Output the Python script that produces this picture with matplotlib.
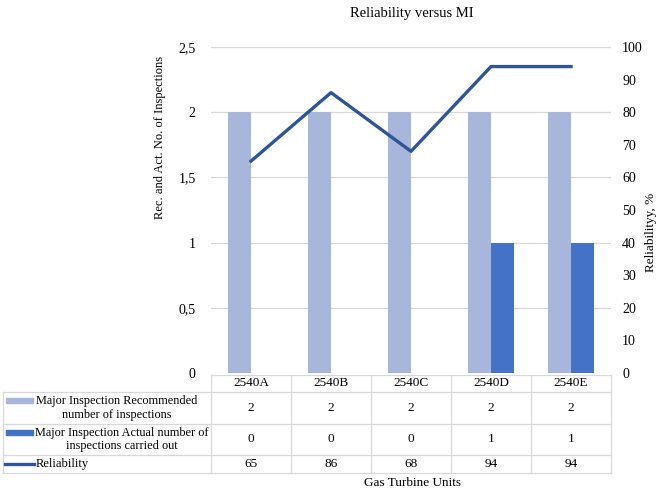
import matplotlib.pyplot as plt
from matplotlib.ticker import FuncFormatter, MultipleLocator

plt.rcParams['font.family'] = ['Liberation Serif', 'DejaVu Serif']

units = ['2540A', '2540B', '2540C', '2540D', '2540E']
recommended = [2, 2, 2, 2, 2]
actual = [0, 0, 0, 1, 1]
reliability = [65, 86, 68, 94, 94]

light_col = '#A8B6DC'
dark_col = '#4472C4'
line_col = '#2F5597'
grid_col = '#D9D9D9'

W, H = 660, 491
fig = plt.figure(figsize=(W / 100, H / 100), dpi=100)

# plot area in pixels
px_left, px_right, px_top, px_bot = 211, 611, 47, 373
ax = fig.add_axes([px_left / W, 1 - px_bot / H,
                   (px_right - px_left) / W, (px_bot - px_top) / H])

x = list(range(len(units)))
bw = 0.29
ax.bar([i - bw / 2 for i in x], recommended, width=bw, color=light_col, zorder=2)
ax.bar([i + bw / 2 for i in x], actual, width=bw, color=dark_col, zorder=2)
ax.set_xlim(-0.5, len(units) - 0.5)
ax.set_ylim(0, 2.5)
ax.yaxis.set_major_locator(MultipleLocator(0.5))
ax.yaxis.set_major_formatter(FuncFormatter(lambda v, p: ('%g' % v).replace('.', ',')))
ax.grid(axis='y', color=grid_col, linewidth=0.9, zorder=0)
ax.set_xticks([])
ax.tick_params(axis='y', length=0, labelsize=10, pad=11)
for s in ax.spines.values():
    s.set_visible(False)

ax2 = ax.twinx()
ax2.plot(x, reliability, color=line_col, linewidth=2.4, zorder=3)
ax2.set_ylim(0, 100)
ax2.yaxis.set_major_locator(MultipleLocator(10))
ax2.tick_params(axis='y', length=0, labelsize=10, pad=8)
for s in ax2.spines.values():
    s.set_visible(False)

fig.text(412 / W, 1 - 14 / H, 'Reliability versus MI', ha='center', va='center', fontsize=10.5)
fig.text(160 / W, 1 - 137 / H, 'Rec. and Act. No. of Inspections', rotation=90,
         ha='center', va='center', fontsize=9)
fig.text(651 / W, 1 - 232 / H, 'Reliabilityy, %', rotation=90,
         ha='center', va='center', fontsize=9.5)

# data table below the chart, drawn in pixel coordinates
tb = fig.add_axes([0, 0, 1, 1])
tb.set_xlim(0, W)
tb.set_ylim(H, 0)
tb.axis('off')

col_w = (px_right - px_left) / len(units)
rows_y = [375, 392, 424, 455, 473]
lw = 0.9
# horizontal lines
tb.plot([px_left, px_right], [rows_y[0]] * 2, color=grid_col, lw=lw)
for y in rows_y[1:]:
    tb.plot([3, px_right], [y, y], color=grid_col, lw=lw)
# vertical lines
for i in range(len(units) + 1):
    xx = px_left + i * col_w
    tb.plot([xx, xx], [rows_y[0], rows_y[-1]], color=grid_col, lw=lw)
tb.plot([3, 3], [rows_y[1], rows_y[-1]], color=grid_col, lw=lw)

for i, u in enumerate(units):
    cx = px_left + (i + 0.5) * col_w
    tb.text(cx, (rows_y[0] + rows_y[1]) / 2, u, ha='center', va='center', fontsize=9.5)
    for r, vals in enumerate([recommended, actual, reliability]):
        tb.text(cx, (rows_y[r + 1] + rows_y[r + 2]) / 2, str(vals[i]),
                ha='center', va='center', fontsize=9.5)

# legend keys
ym = (rows_y[1] + rows_y[2]) / 2
tb.add_patch(plt.Rectangle((6, 398), 27, 5, color=light_col))
tb.text(117, ym, 'Major Inspection Recommended\nnumber of inspections',
        ha='center', va='center', fontsize=8.8, linespacing=1.15)
ym = (rows_y[2] + rows_y[3]) / 2
tb.add_patch(plt.Rectangle((6, 430), 27, 5, color=dark_col))
tb.text(122, ym, 'Major Inspection Actual number of\ninspections carried out',
        ha='center', va='center', fontsize=8.8, linespacing=1.15)
ym = (rows_y[3] + rows_y[4]) / 2
tb.plot([5, 34], [ym, ym], color=line_col, lw=2.4)
tb.text(36, ym, 'Reliability', ha='left', va='center', fontsize=9)

fig.text(412 / W, 1 - 483 / H, 'Gas Turbine Units', ha='center', va='center', fontsize=9.5)

fig.savefig('out.png', dpi=100)
